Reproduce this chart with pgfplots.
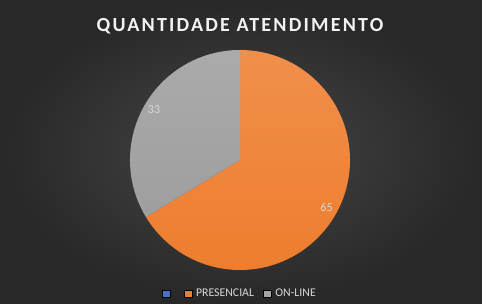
\documentclass[border=0pt]{standalone}
\usepackage{fontspec}
\setmainfont{Carlito}
\newfontfamily\titlefont[LetterSpace=11]{Carlito}
\usepackage{pgfplots}
\pgfplotsset{compat=1.18}
\usepackage{pgfplotstable}
\definecolor{bgin}{HTML}{464646}
\definecolor{bgout}{HTML}{282828}
\definecolor{cblue}{HTML}{4472C4}
\definecolor{corange}{HTML}{EE7D2E}
\definecolor{cgray}{HTML}{A5A5A5}
\definecolor{lbl}{HTML}{D9D9D9}
\pgfplotstableread{
name value
PRESENCIAL 65
ON-LINE 33
}\piedata
\pgfplotstablegetelem{0}{value}\of\piedata \let\va\pgfplotsretval
\pgfplotstablegetelem{1}{value}\of\piedata \let\vb\pgfplotsretval
\begin{document}
\begin{tikzpicture}
\pgfmathsetmacro{\total}{\va+\vb}
\pgfmathsetmacro{\angA}{90-360*(\va/\total)}
\begin{axis}[
  scale only axis, width=482pt, height=304pt,
  xmin=0, xmax=482, ymin=0, ymax=304,
  axis lines=none, clip=false,
  legend style={at={(axis cs:239.5,10.5)}, anchor=center, draw=none, fill=none,
    text=lbl, font=\fontsize{11.8}{13}\selectfont, legend columns=3,
    /tikz/every odd column/.append style={column sep=3pt},
    /tikz/every even column/.append style={column sep=8pt},
    inner sep=0pt, nodes={inner sep=1pt}},
  legend image code/.code={\fill[#1] (0pt,-3.5pt) rectangle (8pt,3.5pt);},
]
\fill[inner color=bgin, outer color=bgout] (axis cs:0,0) rectangle (axis cs:482,304);
\addlegendimage{fill=cblue}
\addlegendentry{}
\addlegendimage{fill=corange}
\addlegendentry{PRESENCIAL}
\addlegendimage{fill=cgray}
\addlegendentry{ON-LINE}
\shade[top color=corange!86!white, bottom color=corange] (axis cs:240,144) -- ++(90:110pt) arc[start angle=90, end angle=\angA, radius=110pt] -- cycle;
\shade[top color=cgray!94!white, bottom color=cgray!96!black] (axis cs:240,144) -- ++(\angA:110pt) arc[start angle=\angA, end angle=-270, radius=110pt] -- cycle;
\node[text=lbl, font=\fontsize{12}{13}\selectfont] at (axis cs:326.5,97) {\va};
\node[text=lbl, font=\fontsize{12}{13}\selectfont] at (axis cs:154,194) {\vb};
\node[text=white!95!black, font=\titlefont\bfseries\fontsize{20}{24}\selectfont] at (axis cs:240,278) {QUANTIDADE ATENDIMENTO};
\end{axis}
\end{tikzpicture}
\end{document}
